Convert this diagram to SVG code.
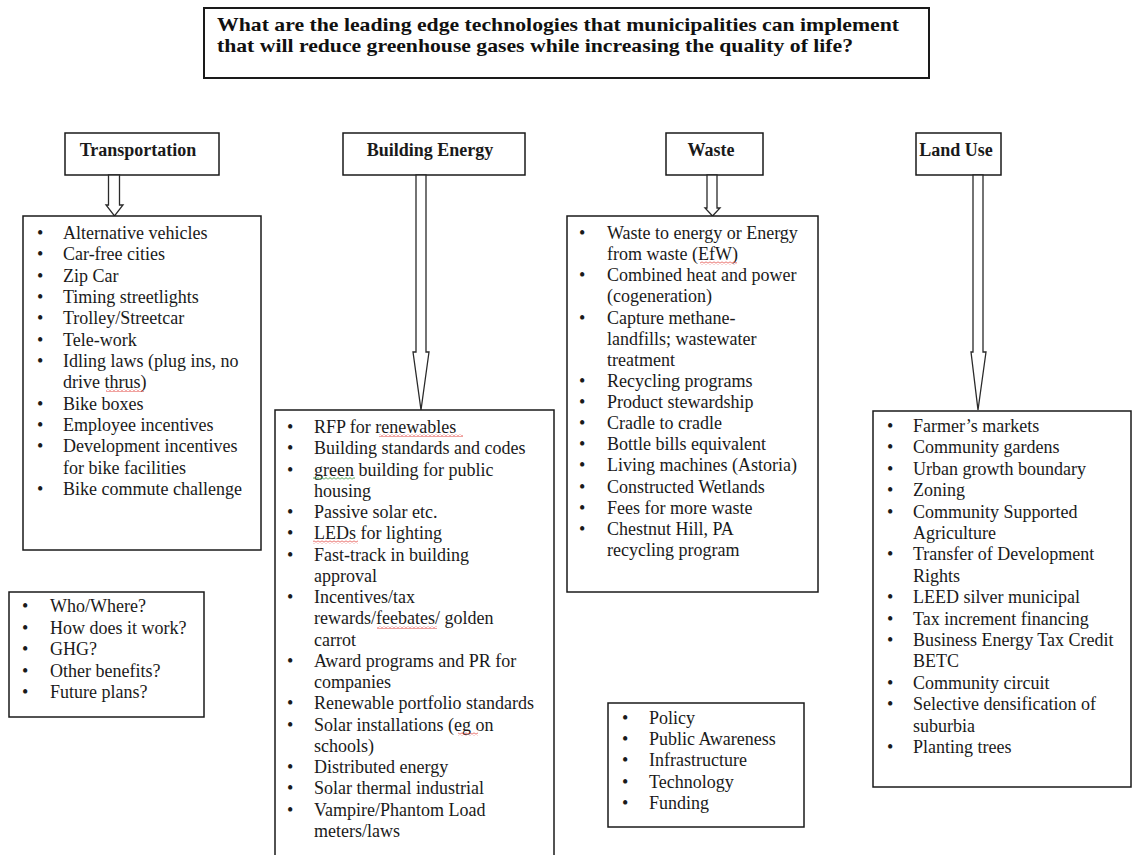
<svg xmlns="http://www.w3.org/2000/svg" width="1132" height="855" viewBox="0 0 1132 855">
<style>
.box{fill:#fff;stroke:#1a1a1a;stroke-width:1.5}
.tbox{fill:#fff;stroke:#1a1a1a;stroke-width:2}
.arrow{fill:#fff;stroke:#2a2a2a;stroke-width:1.3;stroke-linejoin:miter}
.t{font-family:"Liberation Serif","Times New Roman",serif;font-size:18px;fill:#1a1a1a}
.h{font-weight:bold;text-anchor:middle}
.ttl{font-family:"Liberation Serif","Times New Roman",serif;font-size:19.5px;font-weight:bold;fill:#111}
.sq-r{fill:url(#squigR)}
.sq-g{fill:url(#squigG)}
</style>
<defs>
<pattern id="squigR" patternUnits="userSpaceOnUse" width="4" height="3">
<polyline points="0,2.5 2,0.5 4,2.5" fill="none" stroke="#e0302a" stroke-width="0.9"/>
</pattern>
<pattern id="squigG" patternUnits="userSpaceOnUse" width="4" height="3">
<polyline points="0,2.5 2,0.5 4,2.5" fill="none" stroke="#2f9a3a" stroke-width="0.9"/>
</pattern>
</defs>
<rect width="1132" height="855" fill="#fff"/>

<g id="title">
<rect class="tbox" x="204" y="8" width="725" height="70"/>
<text class="ttl" x="217" y="30.5" textLength="682" lengthAdjust="spacingAndGlyphs">What are the leading edge technologies that municipalities can implement</text>
<text class="ttl" x="217" y="52" textLength="636" lengthAdjust="spacingAndGlyphs">that will reduce greenhouse gases while increasing the quality of life?</text>
</g>

<g id="hdr-transportation">
<rect class="box" x="65" y="133" width="154" height="42"/>
<text class="t h" x="138" y="156">Transportation</text>
</g>
<g id="hdr-building">
<rect class="box" x="343" y="133" width="182" height="42"/>
<text class="t h" x="430" y="156">Building Energy</text>
</g>
<g id="hdr-waste">
<rect class="box" x="666" y="133" width="97" height="42"/>
<text class="t h" x="711" y="156">Waste</text>
</g>
<g id="hdr-landuse">
<rect class="box" x="916" y="133" width="85" height="42"/>
<text class="t h" x="956" y="156" font-size="17">Land Use</text>
</g>

<g id="connectors">
<polygon class="arrow" points="108.5,175 108.5,205 106,205 114.5,216 123,205 119.5,205 119.5,175"/>
<polygon class="arrow" points="416,175 416,352 413,352 421,410 429,352 426,352 426,175"/>
<polygon class="arrow" points="707,175 707,208 705,208 712.5,216 720,208 717,208 717,175"/>
<polygon class="arrow" points="973,175 973,352 971,352 978,410 986,352 983,352 983,175"/>
</g>

<g id="list-transportation">
<rect class="box" x="23" y="216" width="238" height="334"/>
<g class="t">
<text x="37" y="239">•</text><text x="63" y="239">Alternative vehicles</text>
<text x="37" y="260.3">•</text><text x="63" y="260.3">Car-free cities</text>
<text x="37" y="281.7">•</text><text x="63" y="281.7">Zip Car</text>
<text x="37" y="303">•</text><text x="63" y="303">Timing streetlights</text>
<text x="37" y="324.3">•</text><text x="63" y="324.3">Trolley/Streetcar</text>
<text x="37" y="345.7">•</text><text x="63" y="345.7">Tele-work</text>
<text x="37" y="367">•</text><text x="63" y="367">Idling laws (plug ins, no</text>
<text x="63" y="388.3">drive thrus)</text>
<text x="37" y="409.7">•</text><text x="63" y="409.7">Bike boxes</text>
<text x="37" y="431">•</text><text x="63" y="431">Employee incentives</text>
<text x="37" y="452.3">•</text><text x="63" y="452.3">Development incentives</text>
<text x="63" y="473.7">for bike facilities</text>
<text x="37" y="495">•</text><text x="63" y="495">Bike commute challenge</text>
</g>
<rect class="sq-r" x="106" y="389" width="38" height="3"/>
</g>

<g id="list-building">
<rect class="box" x="275" y="410" width="279" height="470"/>
<g class="t">
<text x="287" y="433">•</text><text x="314" y="433">RFP for renewables</text>
<text x="287" y="454.3">•</text><text x="314" y="454.3">Building standards and codes</text>
<text x="287" y="475.5">•</text><text x="314" y="475.5">green building for public</text>
<text x="314" y="496.8">housing</text>
<text x="287" y="518">•</text><text x="314" y="518">Passive solar etc.</text>
<text x="287" y="539.3">•</text><text x="314" y="539.3">LEDs for lighting</text>
<text x="287" y="560.6">•</text><text x="314" y="560.6">Fast-track in building</text>
<text x="314" y="581.8">approval</text>
<text x="287" y="603.1">•</text><text x="314" y="603.1">Incentives/tax</text>
<text x="314" y="624.3">rewards/feebates/  golden</text>
<text x="314" y="645.6">carrot</text>
<text x="287" y="666.9">•</text><text x="314" y="666.9">Award programs and PR for</text>
<text x="314" y="688.1">companies</text>
<text x="287" y="709.4">•</text><text x="314" y="709.4">Renewable portfolio standards</text>
<text x="287" y="730.6">•</text><text x="314" y="730.6">Solar installations (eg on</text>
<text x="314" y="751.9">schools)</text>
<text x="287" y="773.2">•</text><text x="314" y="773.2">Distributed energy</text>
<text x="287" y="794.4">•</text><text x="314" y="794.4">Solar thermal industrial</text>
<text x="287" y="815.7">•</text><text x="314" y="815.7">Vampire/Phantom Load</text>
<text x="314" y="836.9">meters/laws</text>
</g>
<rect class="sq-r" x="379" y="434" width="84" height="3"/>
<rect class="sq-g" x="313" y="477" width="42" height="3"/>
<rect class="sq-r" x="313" y="540.5" width="45" height="3"/>
<rect class="sq-r" x="377" y="626" width="60" height="3"/>
<rect class="sq-r" x="458" y="732.5" width="20" height="3"/>
</g>

<g id="list-waste">
<rect class="box" x="567" y="216" width="251" height="376"/>
<g class="t">
<text x="579" y="239">•</text><text x="607" y="239">Waste to energy or Energy</text>
<text x="607" y="260.1">from waste (EfW)</text>
<text x="579" y="281.3">•</text><text x="607" y="281.3">Combined heat and power</text>
<text x="607" y="302.4">(cogeneration)</text>
<text x="579" y="323.5">•</text><text x="607" y="323.5">Capture methane-</text>
<text x="607" y="344.7">landfills; wastewater</text>
<text x="607" y="365.8">treatment</text>
<text x="579" y="386.9">•</text><text x="607" y="386.9">Recycling programs</text>
<text x="579" y="408">•</text><text x="607" y="408">Product stewardship</text>
<text x="579" y="429.2">•</text><text x="607" y="429.2">Cradle to cradle</text>
<text x="579" y="450.3">•</text><text x="607" y="450.3">Bottle bills equivalent</text>
<text x="579" y="471.4">•</text><text x="607" y="471.4">Living machines (Astoria)</text>
<text x="579" y="492.6">•</text><text x="607" y="492.6">Constructed Wetlands</text>
<text x="579" y="513.7">•</text><text x="607" y="513.7">Fees for more waste</text>
<text x="579" y="534.8">•</text><text x="607" y="534.8">Chestnut Hill, PA</text>
<text x="607" y="556">recycling program</text>
</g>
<rect class="sq-r" x="700" y="261.5" width="37" height="3"/>
</g>

<g id="list-landuse">
<rect class="box" x="873" y="411" width="258" height="376"/>
<g class="t">
<text x="887" y="432">•</text><text x="913" y="432">Farmer’s markets</text>
<text x="887" y="453.4">•</text><text x="913" y="453.4">Community gardens</text>
<text x="887" y="474.8">•</text><text x="913" y="474.8">Urban growth boundary</text>
<text x="887" y="496.2">•</text><text x="913" y="496.2">Zoning</text>
<text x="887" y="517.6">•</text><text x="913" y="517.6">Community Supported</text>
<text x="913" y="539">Agriculture</text>
<text x="887" y="560.4">•</text><text x="913" y="560.4">Transfer of Development</text>
<text x="913" y="581.8">Rights</text>
<text x="887" y="603.2">•</text><text x="913" y="603.2">LEED silver municipal</text>
<text x="887" y="624.6">•</text><text x="913" y="624.6">Tax increment financing</text>
<text x="887" y="646">•</text><text x="913" y="646">Business Energy Tax Credit</text>
<text x="913" y="667.4">BETC</text>
<text x="887" y="688.8">•</text><text x="913" y="688.8">Community circuit</text>
<text x="887" y="710.2">•</text><text x="913" y="710.2">Selective densification of</text>
<text x="913" y="731.6">suburbia</text>
<text x="887" y="753">•</text><text x="913" y="753">Planting trees</text>
</g>
</g>

<g id="questions">
<rect class="box" x="9" y="592" width="195" height="125"/>
<g class="t">
<text x="22" y="612">•</text><text x="50" y="612">Who/Where?</text>
<text x="22" y="633.5">•</text><text x="50" y="633.5">How does it work?</text>
<text x="22" y="655">•</text><text x="50" y="655">GHG?</text>
<text x="22" y="676.5">•</text><text x="50" y="676.5">Other benefits?</text>
<text x="22" y="698">•</text><text x="50" y="698">Future plans?</text>
</g>
</g>

<g id="levers">
<rect class="box" x="608" y="703" width="196" height="124"/>
<g class="t">
<text x="622" y="724">•</text><text x="649" y="724">Policy</text>
<text x="622" y="745.2">•</text><text x="649" y="745.2">Public Awareness</text>
<text x="622" y="766.4">•</text><text x="649" y="766.4">Infrastructure</text>
<text x="622" y="787.6">•</text><text x="649" y="787.6">Technology</text>
<text x="622" y="808.8">•</text><text x="649" y="808.8">Funding</text>
</g>
</g>
</svg>
